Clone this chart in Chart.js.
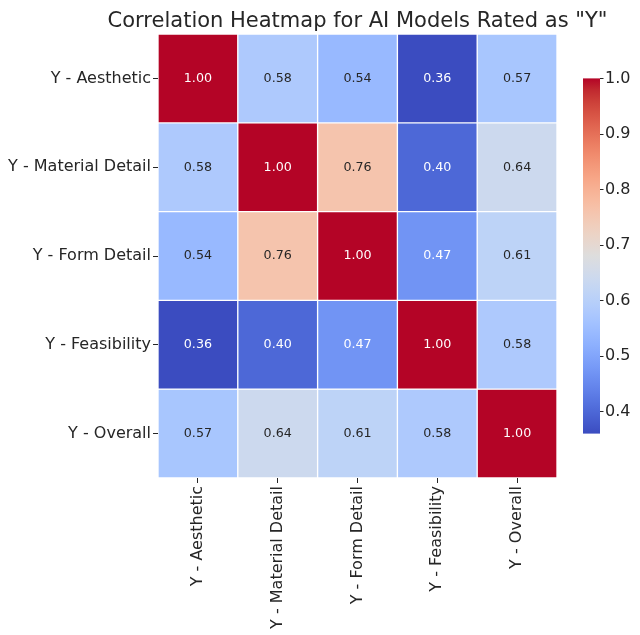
<!DOCTYPE html>
<html>
<head>
<meta charset="utf-8">
<script src="https://cdn.jsdelivr.net/npm/chart.js@4/dist/chart.umd.min.js"></script>
<style>
  body { margin: 0; background: #fff; }
</style>
</head>
<body>
<canvas id="heatmap" width="640" height="635"></canvas>
<script>
const labels = ["Y - Aesthetic", "Y - Material Detail", "Y - Form Detail", "Y - Feasibility", "Y - Overall"];

const corrAesthetic = [1.00, 0.58, 0.54, 0.36, 0.57];
const corrMaterial = [0.58, 1.00, 0.76, 0.40, 0.64];
const corrForm = [0.54, 0.76, 1.00, 0.47, 0.61];
const corrFeasibility = [0.36, 0.40, 0.47, 1.00, 0.58];
const corrOverall = [0.57, 0.64, 0.61, 0.58, 1.00];
const corrRows = [corrAesthetic, corrMaterial, corrForm, corrFeasibility, corrOverall];

const colorbarTicks = [0.4, 0.5, 0.6, 0.7, 0.8, 0.9, 1.0];
const vmin = 0.36;
const vmax = 1.0;

const titleText = 'Correlation Heatmap for AI Models Rated as "Y"';

// coolwarm colormap, evenly spaced stops
const COOLWARM = [
  [59, 76, 192], [68, 90, 204], [77, 104, 215], [87, 117, 225], [98, 130, 234],
  [108, 142, 241], [119, 154, 247], [130, 165, 251], [141, 176, 254], [152, 185, 255],
  [163, 194, 255], [174, 201, 253], [184, 208, 249], [194, 213, 244], [204, 217, 238],
  [213, 219, 230], [221, 221, 221], [229, 216, 209], [236, 211, 197], [241, 204, 185],
  [245, 196, 173], [247, 187, 160], [247, 177, 148], [247, 166, 135], [244, 154, 123],
  [241, 141, 111], [236, 127, 99], [229, 112, 88], [222, 96, 77], [213, 80, 66],
  [203, 62, 56], [192, 40, 47], [180, 4, 38]
];

const FONT = "'DejaVu Sans', sans-serif";
const TEXT_DARK = "#262626";

function coolwarm(v) {
  let t = (v - vmin) / (vmax - vmin);
  t = Math.min(1, Math.max(0, t)) * (COOLWARM.length - 1);
  const i = Math.min(Math.floor(t), COOLWARM.length - 2);
  const f = t - i;
  const a = COOLWARM[i], b = COOLWARM[i + 1];
  return [0, 1, 2].map(k => Math.round(a[k] + (b[k] - a[k]) * f));
}

function rgbStr(c) {
  return "rgb(" + c[0] + "," + c[1] + "," + c[2] + ")";
}

function textColor(rgb) {
  const lin = rgb.map(c => {
    c = c / 255;
    return c <= 0.03928 ? c / 12.92 : Math.pow((c + 0.055) / 1.055, 2.4);
  });
  const lum = 0.2126 * lin[0] + 0.7152 * lin[1] + 0.0722 * lin[2];
  return lum > 0.408 ? TEXT_DARK : "#ffffff";
}

// fixed box sizes, no extra label padding from the layout
function fixSize(w, h) {
  return s => {
    if (w !== null) s.width = w;
    if (h !== null) s.height = h;
    s.paddingTop = 0;
    s.paddingBottom = 0;
    s.paddingLeft = 0;
    s.paddingRight = 0;
  };
}

const datasets = corrRows.map((row, r) => ({
  label: labels[r],
  data: row.map(() => [r, r + 1]),
  backgroundColor: row.map(v => rgbStr(coolwarm(v))),
  borderColor: "#ffffff",
  borderWidth: 1,
  borderSkipped: false,
  grouped: false,
  barPercentage: 1,
  categoryPercentage: 1
}));

const annotate = {
  id: "annotate",
  afterDatasetsDraw(chart) {
    const ctx = chart.ctx;
    ctx.save();
    ctx.font = "12.7px " + FONT;
    ctx.textAlign = "center";
    ctx.textBaseline = "middle";
    corrRows.forEach((row, r) => {
      chart.getDatasetMeta(r).data.forEach((bar, c) => {
        const p = bar.getCenterPoint();
        ctx.fillStyle = textColor(coolwarm(row[c]));
        ctx.fillText(row[c].toFixed(2), p.x, p.y);
      });
    });
    ctx.restore();
  }
};

const extras = {
  id: "extras",
  afterDraw(chart) {
    const ctx = chart.ctx;
    const area = chart.chartArea;
    ctx.save();

    // title
    ctx.font = "21px " + FONT;
    ctx.fillStyle = TEXT_DARK;
    ctx.textAlign = "center";
    ctx.textBaseline = "alphabetic";
    ctx.fillText(titleText, (area.left + area.right) / 2, 27);

    // colorbar
    const cb = chart.scales.cb;
    const top = cb.getPixelForValue(vmax);
    const bottom = cb.getPixelForValue(vmin);
    const x0 = area.right + 26;
    const w = 17;
    const grad = ctx.createLinearGradient(0, bottom, 0, top);
    COOLWARM.forEach((c, i) => grad.addColorStop(i / (COOLWARM.length - 1), rgbStr(c)));
    ctx.fillStyle = grad;
    ctx.fillRect(x0, top, w, bottom - top);

    ctx.strokeStyle = TEXT_DARK;
    ctx.lineWidth = 1;
    colorbarTicks.forEach(t => {
      const y = Math.round(cb.getPixelForValue(t)) + 0.5;
      ctx.beginPath();
      ctx.moveTo(x0 + w, y);
      ctx.lineTo(x0 + w + 3.5, y);
      ctx.stroke();
    });
    ctx.restore();
  }
};

const pad = (vmax - vmin) * 0.125;

new Chart(document.getElementById("heatmap"), {
  type: "bar",
  data: { labels: labels, datasets: datasets },
  options: {
    responsive: false,
    animation: false,
    layout: { padding: { top: 34, left: 0, right: 0, bottom: 0 } },
    plugins: {
      legend: { display: false },
      tooltip: { enabled: false },
      title: { display: false }
    },
    scales: {
      x: {
        type: "category",
        position: "bottom",
        afterFit: fixSize(null, 157),
        border: { display: false },
        grid: { drawOnChartArea: false, offset: false, tickLength: 5, color: TEXT_DARK },
        ticks: {
          autoSkip: false,
          minRotation: 90,
          maxRotation: 90,
          padding: 3,
          color: TEXT_DARK,
          font: { family: FONT, size: 16 }
        }
      },
      y: {
        type: "linear",
        min: 0,
        max: 5,
        reverse: true,
        afterBuildTicks: s => { s.ticks = labels.map((_, i) => ({ value: i + 0.5 })); },
        afterFit: fixSize(158, null),
        border: { display: false },
        grid: { drawOnChartArea: false, tickLength: 5, color: TEXT_DARK },
        ticks: {
          autoSkip: false,
          padding: 2,
          color: TEXT_DARK,
          font: { family: FONT, size: 16 },
          callback: (v, i) => labels[i]
        }
      },
      cb: {
        type: "linear",
        position: "right",
        min: vmin - pad,
        max: vmax + pad,
        afterBuildTicks: s => { s.ticks = colorbarTicks.map(v => ({ value: v })); },
        afterFit: fixSize(83, null),
        border: { display: false },
        grid: { display: false, drawTicks: false },
        ticks: {
          padding: 48,
          color: TEXT_DARK,
          font: { family: FONT, size: 16 },
          callback: v => v.toFixed(1)
        }
      }
    }
  },
  plugins: [annotate, extras]
});
</script>
</body>
</html>
